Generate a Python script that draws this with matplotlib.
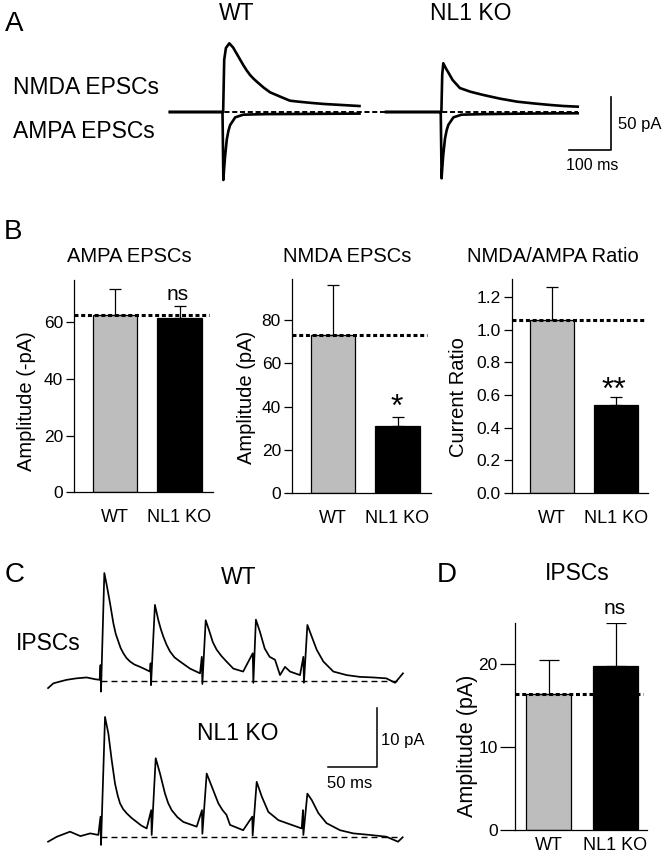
import numpy as np
import matplotlib
matplotlib.use("Agg")
import matplotlib.pyplot as plt

# -----------------------------------------
# CONFIG
# -----------------------------------------
plt.rcParams["font.family"] = ["Liberation Sans", "DejaVu Sans"]

W, H = 668, 857
OUT_FILE = "out.png"

# -----------------------------------------
# DATA : bar graphs
# -----------------------------------------
groups = ["WT", "NL1 KO"]
bar_colors = ["#bdbdbd", "black"]

ampa_mean = [62.3, 61.2]
ampa_err = [9.2, 4.1]

nmda_mean = [73.0, 31.0]
nmda_err = [23.2, 4.1]

ratio_mean = [1.06, 0.54]
ratio_err = [0.20, 0.05]

ipsc_mean = [16.4, 19.7]
ipsc_err = [4.1, 5.2]

# -----------------------------------------
# DATA : panel A traces (ms from stimulus, pA)
# -----------------------------------------
wt_nmda_t = [-124, -3, 1.5, 4, 8, 16, 25, 33, 41, 49, 57, 65, 73, 81, 96, 112, 136, 159, 179, 210, 240, 280, 323]
wt_nmda_i = [0, 0, 0, 49, 60, 64.4, 60.5, 55, 49.5, 44, 39, 34.7, 31.3, 28.4, 23.2, 18.5, 14.4, 10.6, 9.7, 8.5, 7.5, 6.6, 5.6]

wt_ampa_t = [-124, -3, 0, 2, 4, 6, 10, 14, 18, 30, 49, 100, 200, 323]
wt_ampa_i = [0, 0, 0, -63.8, -52, -42, -26, -17.5, -12.2, -5, -2.5, -2, -1.8, -1.5]

ko_nmda_t = [-129, -3, 1.5, 3.5, 6, 12, 18, 28, 45, 70, 100, 140, 180, 220, 258, 290, 323]
ko_nmda_i = [0, 0, 0, 35, 45.7, 41, 37, 30, 22.5, 19, 16, 12.5, 9.7, 8, 6.6, 5.6, 5.0]

ko_ampa_t = [-129, -3, 0, 2, 4, 6, 10, 14, 18, 30, 49, 100, 200, 323]
ko_ampa_i = [0, 0, 0, -62.2, -50, -40, -25, -17, -12, -5, -2.5, -2, -1.5, -1.2]

# -----------------------------------------
# DATA : panel C traces (ms from first stimulus, pA)
# -----------------------------------------
wt_ipsc_t = [-54, -48.6, -42, -35, -25, -14.6, -6, -1.4, -0.5, 0, 3.4, 5.8, 9.2, 12.6, 15, 17.7,
             20, 22.8, 26, 29.6, 34, 39.8, 45, 50, 50.6, 51, 55, 58.5, 61, 63.6, 67, 70.4, 75,
             80.6, 90.8, 101, 102.8, 103.4, 106.8, 111.2, 114, 118, 123, 128, 135, 145, 154.8,
             155.4, 158, 162, 167, 172, 177.5, 182.6, 187.7, 192.8, 203, 206.4, 207, 210.5, 215,
             220, 226.8, 237, 250.6, 264, 277.8, 291, 300, 308]
wt_ipsc_i = [-1.2, -0.4, -0.1, 0.2, 0.45, 0.6, 0.3, 0.2, 2.7, -1.8, 18.3, 16.3, 13.2, 9.8, 8.0, 6.7,
             5.6, 4.7, 3.9, 3.3, 2.8, 2.4, 2.0, 1.6, 3.0, -0.7, 12.9, 10.3, 8.8, 7.5, 6.1, 5.0, 4.0,
             3.3, 2.1, 1.3, 4.1, -0.5, 10.3, 8.1, 6.6, 5.3, 4.2, 3.3, 2.1, 1.6, 4.7,
             -0.3, 10.4, 8.4, 5.5, 4.1, 3.6, 1.0, 2.4, 1.6, 1.0, 4.1, -0.3, 9.5, 7.5,
             5.3, 3.3, 1.6, 1.0, 0.7, 0.6, 0.45, -0.3, 1.3]

ko_ipsc_t = [-54, -45, -31.6, -21, -11, -2.7, -0.5, 0, 4.1, 7.5, 10.9, 14.3, 17, 19.4, 22.5, 26.2,
             31, 36.4, 41, 46.6, 51.2, 51.7, 55.8, 60.2, 65.3, 68.5, 72.1, 78, 84, 97.6, 103,
             103.4, 107.8, 113, 119.7, 124, 128, 131.6, 145, 154.3, 154.7, 158.8, 164, 170.7,
             181, 194.5, 204.7, 206, 206.4, 210.5, 215, 221.7, 230, 243.8, 257.4, 274.4, 291,
             303, 307.7]
ko_ipsc_i = [-0.85, 0, 0.85, 0.1, 0.56, 0.3, 3.4, -1.4, 20.3, 17.5, 13, 9.0, 7.0, 5.65, 4.7, 3.96,
             3.2, 2.5, 1.9, 1.4, 4.5, 0.3, 13.3, 10.7, 7.3, 5.7, 4.5, 3.3, 2.5, 1.7, 4.5,
             0.5, 10.7, 8.5, 5.65, 4.5, 3.7, 2.0, 1.1, 3.4, 0.2, 9.3, 6.8, 4.2,
             2.8, 2.0, 1.4, 4.5, 0.3, 7.3, 6.2, 4.0, 2.3, 1.1, 0.56, 0.3, 0,
             -0.85, -0.1]

# -----------------------------------------
# HELPERS
# -----------------------------------------
fig = plt.figure(figsize=(W / 100, H / 100), dpi=100)


def px_axes(x0, y0, x1, y1):
    return fig.add_axes([x0 / W, 1 - y1 / H, (x1 - x0) / W, (y1 - y0) / H])


def ftext(x, y, s, size, ha="center", va="center", **kw):
    fig.text(x / W, 1 - y / H, s, fontsize=size, ha=ha, va=va, **kw)


def bar_panel(box, means, errs, top, ticks, fmt, xlim, width, tick_len, xpad, cap):
    ax = px_axes(*box)
    x = np.arange(len(groups))
    ax.bar(x, means, width=width, color=bar_colors, edgecolor="black",
           linewidth=0.9, zorder=2)
    ax.errorbar(x, means, yerr=[np.zeros(len(means)), errs], fmt="none",
                ecolor="black", elinewidth=0.9, capsize=cap, capthick=0.9, zorder=2.5)
    ax.axhline(means[0], xmin=0, xmax=0.97, color="black", lw=2.2,
               ls=(0, (1.3, 0.9)), zorder=3)
    ax.set_xlim(*xlim)
    ax.set_ylim(0, top)
    ax.set_yticks(ticks)
    ax.set_yticklabels([fmt.format(t) for t in ticks])
    ax.set_xticks(x)
    ax.set_xticklabels(groups)
    ax.tick_params(axis="x", length=0, pad=xpad, labelsize=13)
    ax.tick_params(axis="y", length=tick_len, width=0.9, pad=2, labelsize=12.5)
    for s in ["top", "right"]:
        ax.spines[s].set_visible(False)
    for s in ["left", "bottom"]:
        ax.spines[s].set_linewidth(0.9)
    return ax


# -----------------------------------------
# PANEL A
# -----------------------------------------
ms_px_a = 2.358
pa_px_a = 0.938
axA = px_axes(160, 30, 620, 195)
axA.set_xlim(0, 460 * ms_px_a)
axA.set_ylim(-(195 - 112) * pa_px_a, (112 - 30) * pa_px_a)
axA.axis("off")

stim_a = [147.4, 662.0]
axA.plot([stim_a[0] - 124, stim_a[1] + 323], [0, 0], color="black", lw=1.4,
         ls=(0, (2.6, 1.4)), zorder=1)
for s0, (tt, ii) in zip([stim_a[0], stim_a[0], stim_a[1], stim_a[1]],
                        [(wt_nmda_t, wt_nmda_i), (wt_ampa_t, wt_ampa_i),
                         (ko_nmda_t, ko_nmda_i), (ko_ampa_t, ko_ampa_i)]):
    axA.plot(np.array(tt) + s0, ii, color="black", lw=1.9, zorder=2,
             solid_joinstyle="round")

# scale bar 100 ms / 50 pA
sb_x = 1064.6
sb_y = -35.6
axA.plot([sb_x - 100, sb_x, sb_x], [sb_y, sb_y, sb_y + 50], color="black", lw=1.2)

ftext(14, 24, "A", 20)
ftext(237, 14, "WT", 16.5)
ftext(471, 14, "NL1 KO", 16.5)
ftext(13, 88, "NMDA EPSCs", 16.5, ha="left")
ftext(13, 131, "AMPA EPSCs", 16.5, ha="left")
ftext(618, 125, "50 pA", 12, ha="left")
ftext(592, 166, "100 ms", 11.5)

# -----------------------------------------
# PANEL B
# -----------------------------------------
ftext(13, 232, "B", 20)

bar_panel((74, 280, 213, 492.5), ampa_mean, ampa_err, 74.6, [0, 20, 40, 60], "{:.0f}",
          (-0.64, 1.52), 0.69, 6, 12, 4)
bar_panel((292, 279, 431, 493), nmda_mean, nmda_err, 99, [0, 20, 40, 60, 80], "{:.0f}",
          (-0.64, 1.52), 0.69, 6, 12, 4)
bar_panel((512, 279, 648, 493), ratio_mean, ratio_err, 1.31,
          [0.0, 0.2, 0.4, 0.6, 0.8, 1.0, 1.2], "{:.1f}",
          (-0.63, 1.50), 0.69, 6, 12, 4)

ftext(129, 256, "AMPA EPSCs", 14.5)
ftext(347, 256, "NMDA EPSCs", 14.5)
ftext(553, 256, "NMDA/AMPA Ratio", 14.5)

ftext(27, 401, "Amplitude (-pA)", 14.5, rotation=90)
ftext(246, 397, "Amplitude (pA)", 14.5, rotation=90)
ftext(458, 397, "Current Ratio", 14.5, rotation=90)

ftext(178, 295, "ns", 15)
ftext(397, 408, "*", 23)
ftext(614, 391, "**", 23)

# -----------------------------------------
# PANEL C
# -----------------------------------------
ms_px_c = 1.02
pa_px_c = 0.1695
c_xlim = ((40 - 101) * ms_px_c, (420 - 101) * ms_px_c)

axC1 = px_axes(40, 565, 420, 700)
axC1.set_xlim(*c_xlim)
axC1.set_ylim(-(700 - 681) * pa_px_c, (681 - 565) * pa_px_c)
axC1.axis("off")
axC1.plot([0, 302], [0, 0], color="black", lw=1.0, ls=(0, (4.3, 2.9)))
axC1.plot(wt_ipsc_t, wt_ipsc_i, color="black", lw=1.25, solid_joinstyle="round")

axC2 = px_axes(40, 700, 420, 855)
axC2.set_xlim(*c_xlim)
axC2.set_ylim(-(855 - 836.7) * pa_px_c, (836.7 - 700) * pa_px_c)
axC2.axis("off")
axC2.plot([0, 302], [0, 0], color="black", lw=1.0, ls=(0, (4.3, 2.9)))
axC2.plot(ko_ipsc_t, ko_ipsc_i, color="black", lw=1.25, solid_joinstyle="round")

# scale bar 50 ms / 10 pA
sc_x = 281.5
sc_y = 11.8
axC2.plot([sc_x - 50, sc_x, sc_x], [sc_y, sc_y, sc_y + 10], color="black", lw=1.1)

ftext(15, 575, "C", 20)
ftext(239, 577, "WT", 16.5)
ftext(238, 733, "NL1 KO", 16.5)
ftext(48, 643, "IPSCs", 16.5)
ftext(381, 740, "10 pA", 12, ha="left")
ftext(350, 783, "50 ms", 12)

# -----------------------------------------
# PANEL D
# -----------------------------------------
bar_panel((515, 623, 647, 830), ipsc_mean, ipsc_err, 24.9, [0, 10, 20], "{:.0f}",
          (-0.5, 1.47), 0.67, 10.5, 5, 7.5)

ftext(447, 575, "D", 20)
ftext(577, 574, "IPSCs", 16.5)
ftext(468, 746, "Amplitude (pA)", 15.5, rotation=90)
ftext(615, 609, "ns", 15)

fig.savefig(OUT_FILE, dpi=100)
